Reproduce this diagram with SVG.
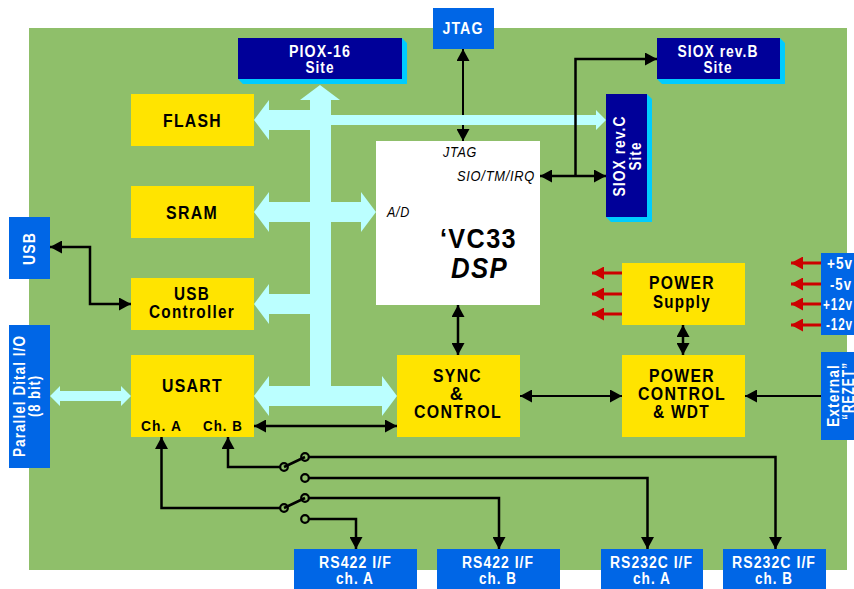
<svg xmlns="http://www.w3.org/2000/svg" width="854" height="589" viewBox="0 0 854 589">
<style>
text{font-family:"Liberation Sans",Arial,sans-serif;font-weight:bold;text-anchor:middle}
.y{fill:#ffe400}.b{fill:#0066e6}.n{fill:#000099}.s{fill:#00ccff}
.k{font-size:18px;letter-spacing:1.5px;fill:#000}
.h{font-size:15px;letter-spacing:1.2px;fill:#000}
.w{font-size:16px;letter-spacing:1.2px;fill:#fff}
.i{font-size:14.500px;font-weight:normal;font-style:italic;fill:#000;letter-spacing:.8px}
.l{fill:none;stroke:#000;stroke-width:2.500}
.t{fill:none;stroke:#000;stroke-width:2}
.r{fill:none;stroke:#cc0000;stroke-width:3}
.c{fill:none;stroke:#000;stroke-width:2.200}
.bus{fill:#bbffff}
</style>
<defs>
<marker id="a" markerUnits="userSpaceOnUse" viewBox="0 0 12 13" refX="12" refY="6.5" markerWidth="12" markerHeight="13" orient="auto-start-reverse"><path d="M0 0L12 6.5L0 13Z" fill="#000"/></marker>
<marker id="ar" markerUnits="userSpaceOnUse" viewBox="0 0 12 13" refX="12" refY="6.5" markerWidth="12" markerHeight="13" orient="auto"><path d="M0 0L12 6.5L0 13Z" fill="#cc0000"/></marker>
</defs>
<rect id="board" x="29" y="28" width="818" height="542" fill="#8fbf6a"/>
<g id="connectors-under"><path class="t" d="M463 49V141" marker-start="url(#a)" marker-end="url(#a)"/></g>
<g id="bus" class="bus">
<path d="M320 85L340 100H331V386H310V100H300Z"/>
<path d="M254 120L269 100V110H310V130H269V140Z"/>
<path d="M331 115H596V110L606 120L596 130V125H331Z"/>
<path d="M254 212L269 192V202H361V192L376 212L361 232V222H269V232Z"/>
<path d="M254 304L269 284V294H310V314H269V324Z"/>
<path d="M254 396L269 376V386H382V376L397 396L382 416V406H269V416Z"/>
<path d="M50 396L60 386V391H121V386L131 396L121 406V401H60V406Z"/>
</g>
<g id="connectors">
<path class="l" d="M50 247H90V304H131" marker-start="url(#a)" marker-end="url(#a)"/>
<path class="l" d="M540 176H606" marker-start="url(#a)" marker-end="url(#a)"/>
<path class="l" d="M575.500 176V59H657" marker-end="url(#a)"/>
<path class="l" d="M458 305V355" marker-start="url(#a)" marker-end="url(#a)"/>
<path class="l" d="M683 325V355" marker-start="url(#a)" marker-end="url(#a)"/>
<path class="t" d="M520 396H622" marker-start="url(#a)" marker-end="url(#a)"/>
<path class="t" d="M821 396H745" marker-end="url(#a)"/>
<path class="l" d="M254 426H397" marker-start="url(#a)" marker-end="url(#a)"/>
<path class="l" d="M280.500 508H161.500V437" marker-end="url(#a)"/>
<path class="l" d="M280.500 467H228V437" marker-end="url(#a)"/>
<path class="l" d="M284 467L305 457M284 508L305 498"/>
<path class="l" d="M308.500 457H775.500V549" marker-end="url(#a)"/>
<path class="l" d="M308.500 478H647.500V549" marker-end="url(#a)"/>
<path class="l" d="M308.500 498H499V549" marker-end="url(#a)"/>
<path class="l" d="M308.500 519H356V549" marker-end="url(#a)"/>
<circle class="c" cx="284" cy="467" r="3.800"/><circle class="c" cx="305" cy="457" r="3.800"/><circle class="c" cx="305" cy="478" r="3.800"/>
<circle class="c" cx="284" cy="508" r="3.800"/><circle class="c" cx="305" cy="498" r="3.800"/><circle class="c" cx="305" cy="519" r="3.800"/>
<path class="r" d="M622 273H592" marker-end="url(#ar)"/>
<path class="r" d="M622 294H592" marker-end="url(#ar)"/>
<path class="r" d="M622 314H592" marker-end="url(#ar)"/>
<path class="r" d="M821 263H791" marker-end="url(#ar)"/>
<path class="r" d="M821 284H791" marker-end="url(#ar)"/>
<path class="r" d="M821 304H791" marker-end="url(#ar)"/>
<path class="r" d="M821 325H791" marker-end="url(#ar)"/>
</g>
<g id="piox"><path class="s" d="M238 79L243 84H407V43L402 38V79Z"/><rect class="n" x="238" y="38" width="164" height="41"/><text class="w" x="320" y="57" textLength="62" lengthAdjust="spacingAndGlyphs">PIOX-16</text><text class="w" x="320" y="73" textLength="29" lengthAdjust="spacingAndGlyphs">Site</text></g>
<g id="sioxb"><path class="s" d="M657 79L662 84H785V43L780 38V79Z"/><rect class="n" x="657" y="38" width="123" height="41"/><text class="w" x="718" y="57" textLength="81" lengthAdjust="spacingAndGlyphs">SIOX rev.B</text><text class="w" x="718" y="73" textLength="29" lengthAdjust="spacingAndGlyphs">Site</text></g>
<g id="sioxc"><path class="s" d="M606 217L611 222H652V99L647 94V217Z"/><rect class="n" x="606" y="94" width="41" height="123"/><text class="w" transform="translate(625 156) rotate(-90)" textLength="81" lengthAdjust="spacingAndGlyphs">SIOX rev.C</text><text class="w" transform="translate(641 156) rotate(-90)" textLength="29" lengthAdjust="spacingAndGlyphs">Site</text></g>
<g id="jtag"><rect class="b" x="433" y="8" width="61" height="41"/><text class="w" x="463" y="34" textLength="41" lengthAdjust="spacingAndGlyphs">JTAG</text></g>
<g id="usb"><rect class="b" x="9" y="217" width="41" height="62"/><text class="w" transform="translate(35 248.500) rotate(-90)" textLength="33" lengthAdjust="spacingAndGlyphs">USB</text></g>
<g id="parallel"><rect class="b" x="9" y="325" width="41" height="143"/><text class="w" transform="translate(25 396) rotate(-90)" textLength="122" lengthAdjust="spacingAndGlyphs">Parallel Dital I/O</text><text class="w" transform="translate(40 396) rotate(-90)" textLength="42" lengthAdjust="spacingAndGlyphs">(8 bit)</text></g>
<g id="flash"><rect class="y" x="131" y="94" width="123" height="52"/><text class="k" x="192.500" y="127" textLength="59" lengthAdjust="spacingAndGlyphs">FLASH</text></g>
<g id="sram"><rect class="y" x="131" y="186" width="123" height="52"/><text class="k" x="192" y="219" textLength="52" lengthAdjust="spacingAndGlyphs">SRAM</text></g>
<g id="usbctl"><rect class="y" x="131" y="278" width="123" height="52"/><text class="k" x="192" y="300" textLength="36" lengthAdjust="spacingAndGlyphs">USB</text><text class="k" x="192" y="318" textLength="86" lengthAdjust="spacingAndGlyphs">Controller</text></g>
<g id="usart"><rect class="y" x="131" y="355" width="123" height="82"/><text class="k" x="192.500" y="392" textLength="61" lengthAdjust="spacingAndGlyphs">USART</text><text class="h" x="161.500" y="431" textLength="41" lengthAdjust="spacingAndGlyphs">Ch. A</text><text class="h" x="223" y="431" textLength="40" lengthAdjust="spacingAndGlyphs">Ch. B</text></g>
<g id="dsp"><rect x="376" y="141" width="164" height="164" fill="#fff"/>
<text class="i" x="460" y="157" textLength="34" lengthAdjust="spacingAndGlyphs">JTAG</text><text class="i" x="496" y="181" textLength="78" lengthAdjust="spacingAndGlyphs">SIO/TM/IRQ</text><text class="i" x="398.500" y="217" textLength="23" lengthAdjust="spacingAndGlyphs">A/D</text>
<text x="478.500" y="248" style="font-size:28px;letter-spacing:1.5px" textLength="77" lengthAdjust="spacingAndGlyphs">‘VC33</text><text x="479.500" y="278" style="font-size:29px;font-style:italic;letter-spacing:1.5px" textLength="57" lengthAdjust="spacingAndGlyphs">DSP</text></g>
<g id="sync"><rect class="y" x="397" y="355" width="123" height="82"/><text class="k" x="457.500" y="382" textLength="49" lengthAdjust="spacingAndGlyphs">SYNC</text><text class="k" x="457" y="400">&amp;</text><text class="k" x="458" y="418" textLength="88" lengthAdjust="spacingAndGlyphs">CONTROL</text></g>
<g id="powerctl"><rect class="y" x="622" y="355" width="123" height="82"/><text class="k" x="682" y="382" textLength="66" lengthAdjust="spacingAndGlyphs">POWER</text><text class="k" x="682" y="400" textLength="88" lengthAdjust="spacingAndGlyphs">CONTROL</text><text class="k" x="681.500" y="418" textLength="57" lengthAdjust="spacingAndGlyphs">&amp; WDT</text></g>
<g id="power"><rect class="y" x="622" y="263" width="123" height="62"/><text class="k" x="682" y="289" textLength="66" lengthAdjust="spacingAndGlyphs">POWER</text><text class="k" x="682" y="308" textLength="58" lengthAdjust="spacingAndGlyphs">Supply</text></g>
<g id="volts"><rect class="b" x="821" y="253" width="33" height="82"/><text class="w" x="840" y="269" textLength="26" lengthAdjust="spacingAndGlyphs">+5v</text><text class="w" x="841" y="290" textLength="22" lengthAdjust="spacingAndGlyphs">-5v</text><text class="w" x="838" y="310" textLength="30" lengthAdjust="spacingAndGlyphs">+12v</text><text class="w" x="839.500" y="330" textLength="27" lengthAdjust="spacingAndGlyphs">-12v</text></g>
<g id="reset"><rect class="b" x="821" y="352" width="33" height="88"/><text class="w" transform="translate(839 395.500) rotate(-90)" textLength="63" lengthAdjust="spacingAndGlyphs">External</text><text class="w" transform="translate(853.500 391) rotate(-90)" textLength="58" lengthAdjust="spacingAndGlyphs">“REZET”</text></g>
<g id="rs422a"><rect class="b" x="294" y="549" width="123" height="40"/><text class="w" x="355.500" y="568" textLength="73" lengthAdjust="spacingAndGlyphs">RS422 I/F</text><text class="w" x="355" y="584" textLength="38" lengthAdjust="spacingAndGlyphs">ch. A</text></g>
<g id="rs422b"><rect class="b" x="437" y="549" width="123" height="40"/><text class="w" x="498" y="568" textLength="72" lengthAdjust="spacingAndGlyphs">RS422 I/F</text><text class="w" x="498" y="584" textLength="38" lengthAdjust="spacingAndGlyphs">ch. B</text></g>
<g id="rs232a"><rect class="b" x="601" y="549" width="102" height="40"/><text class="w" x="651.500" y="568" textLength="83" lengthAdjust="spacingAndGlyphs">RS232C I/F</text><text class="w" x="652" y="584" textLength="38" lengthAdjust="spacingAndGlyphs">ch. A</text></g>
<g id="rs232b"><rect class="b" x="723" y="549" width="103" height="40"/><text class="w" x="774" y="568" textLength="84" lengthAdjust="spacingAndGlyphs">RS232C I/F</text><text class="w" x="774" y="584" textLength="38" lengthAdjust="spacingAndGlyphs">ch. B</text></g>
</svg>
